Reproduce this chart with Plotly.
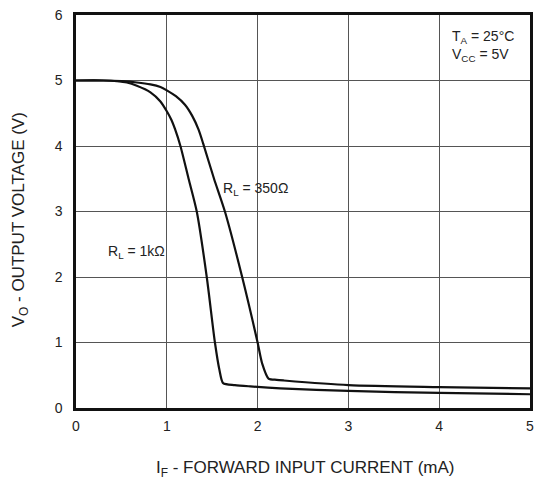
import plotly.graph_objects as go

# 1 kOhm load curve (IF in mA, VO in V)
x_1k = [0, 0.3, 0.45, 0.56, 0.67, 0.82, 0.93, 1.0, 1.05, 1.09, 1.15, 1.24, 1.33, 1.44, 1.53, 1.58, 1.62, 1.75, 1.92, 2.25, 3.0, 4.0, 5.0]
y_1k = [5.0, 5.0, 4.99, 4.97, 4.92, 4.82, 4.68, 4.53, 4.40, 4.26, 4.0, 3.5, 3.0, 2.0, 1.0, 0.58, 0.38, 0.35, 0.33, 0.30, 0.26, 0.23, 0.21]

# 350 Ohm load curve
x_350 = [0, 0.3, 0.5, 0.67, 0.82, 0.93, 1.0, 1.1, 1.2, 1.28, 1.35, 1.40, 1.52, 1.64, 1.83, 2.0, 2.05, 2.12, 2.21, 2.29, 3.0, 4.0, 5.0]
y_350 = [5.0, 5.0, 4.99, 4.97, 4.94, 4.90, 4.85, 4.76, 4.63, 4.46, 4.25, 4.04, 3.5, 3.0, 2.0, 1.0, 0.68, 0.45, 0.43, 0.42, 0.35, 0.32, 0.30]

x_ticks = [0, 1, 2, 3, 4, 5]
y_ticks = [0, 1, 2, 3, 4, 5, 6]

FONT = "Liberation Sans, Arial, Helvetica, sans-serif"
TXT = "#222222"

fig = go.Figure()
fig.add_trace(go.Scatter(x=x_1k, y=y_1k, mode="lines",
                         line=dict(color="#111111", width=2.2, shape="spline", smoothing=0.7),
                         showlegend=False))
fig.add_trace(go.Scatter(x=x_350, y=y_350, mode="lines",
                         line=dict(color="#111111", width=2.2, shape="spline", smoothing=0.7),
                         showlegend=False))

fig.add_annotation(x=1.98, y=3.34, text="R<sub>L</sub> = 350Ω", showarrow=False,
                   font=dict(size=14, color=TXT, family=FONT))
fig.add_annotation(x=0.67, y=2.38, text="R<sub>L</sub> = 1kΩ", showarrow=False,
                   font=dict(size=14, color=TXT, family=FONT))
fig.add_annotation(x=4.12, y=5.66, text="T<sub>A</sub> = 25°C", showarrow=False, xanchor="left",
                   font=dict(size=14, color=TXT, family=FONT))
fig.add_annotation(x=4.12, y=5.39, text="V<sub>CC</sub> = 5V", showarrow=False, xanchor="left",
                   font=dict(size=14, color=TXT, family=FONT))

# axis titles placed as paper annotations for exact positioning
fig.add_annotation(xref="paper", yref="paper", x=0.505, y=-0.155, yanchor="middle",
                   text="I<sub>F</sub> - FORWARD INPUT CURRENT (mA)", showarrow=False,
                   font=dict(size=17, color=TXT, family=FONT))
fig.add_annotation(xref="paper", yref="paper", x=-0.123, y=0.478, xanchor="center", yanchor="middle",
                   textangle=-90, text="V<sub>O</sub> - OUTPUT VOLTAGE (V)", showarrow=False,
                   font=dict(size=17, color=TXT, family=FONT))

fig.update_xaxes(range=[0, 5], tickvals=x_ticks, ticks="", showgrid=True, automargin=False,
                 gridcolor="#555555", gridwidth=1, zeroline=False, ticklabelstandoff=3,
                 showline=True, mirror=True, linecolor="#111111", linewidth=2.5,
                 tickfont=dict(size=14, color=TXT, family=FONT))
fig.update_yaxes(range=[0, 6], tickvals=y_ticks, ticks="", showgrid=True, automargin=False,
                 gridcolor="#555555", gridwidth=1, zeroline=False, ticklabelstandoff=8,
                 showline=True, mirror=True, linecolor="#111111", linewidth=2.5,
                 tickfont=dict(size=14, color=TXT, family=FONT))

fig.update_layout(width=536, height=481, margin=dict(l=76, r=6, t=15, b=73, autoexpand=False),
                  plot_bgcolor="white", paper_bgcolor="white",
                  font=dict(family=FONT))

fig.write_html("out.html")
